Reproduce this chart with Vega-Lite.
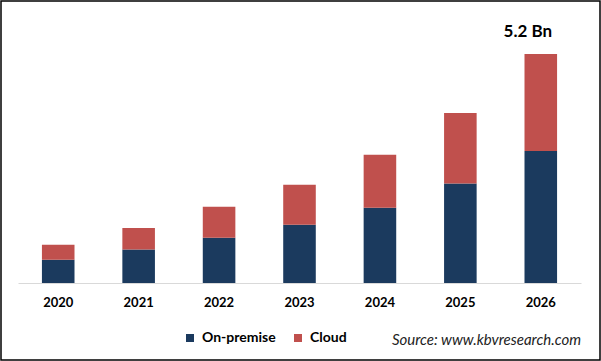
{
  "$schema": "https://vega.github.io/schema/vega-lite/v6.json",
  "autosize": {"type": "none"},
  "width": 599,
  "height": 359,
  "padding": {"left": 1, "top": 1, "right": 1, "bottom": 1},
  "background": "#ffffff",
  "config": {
    "view": {"stroke": "#000000", "strokeWidth": 1.5},
    "font": "Lato"
  },
  "title": {
    "text": "Source: www.kbvresearch.com",
    "orient": "bottom",
    "anchor": "end",
    "offset": -27,
    "dx": -19,
    "font": "Lato",
    "fontStyle": "italic",
    "fontWeight": "normal",
    "fontSize": 15,
    "color": "#222222"
  },
  "datasets": {
    "market": [
      {"year": "2020", "segment": "On-premise", "value": 0.53},
      {"year": "2020", "segment": "Cloud", "value": 0.34},
      {"year": "2021", "segment": "On-premise", "value": 0.76},
      {"year": "2021", "segment": "Cloud", "value": 0.49},
      {"year": "2022", "segment": "On-premise", "value": 1.03},
      {"year": "2022", "segment": "Cloud", "value": 0.70},
      {"year": "2023", "segment": "On-premise", "value": 1.32},
      {"year": "2023", "segment": "Cloud", "value": 0.91},
      {"year": "2024", "segment": "On-premise", "value": 1.71},
      {"year": "2024", "segment": "Cloud", "value": 1.20},
      {"year": "2025", "segment": "On-premise", "value": 2.26},
      {"year": "2025", "segment": "Cloud", "value": 1.60},
      {"year": "2026", "segment": "On-premise", "value": 3.00},
      {"year": "2026", "segment": "Cloud", "value": 2.20}
    ],
    "note": [
      {"year": "2026", "total": 5.2, "label": "5.2 Bn"}
    ]
  },
  "layer": [
    {
      "data": {"name": "market"},
      "mark": {"type": "bar"},
      "encoding": {
        "x": {
          "field": "year",
          "type": "ordinal",
          "scale": {"range": [17, 580], "paddingInner": 0.595, "paddingOuter": 0.2975},
          "axis": {
            "title": null,
            "orient": "bottom",
            "offset": -77,
            "domainColor": "#d9d9d9",
            "domainWidth": 1,
            "ticks": false,
            "labelAngle": 0,
            "labelPadding": 13,
            "labelFont": "Lato",
            "labelFontWeight": "bold",
            "labelFontSize": 13,
            "labelColor": "#000000"
          }
        },
        "y": {
          "field": "value",
          "type": "quantitative",
          "stack": "zero",
          "scale": {"domain": [-1.7485, 6.4035], "nice": false, "zero": false},
          "axis": null
        },
        "color": {
          "field": "segment",
          "type": "nominal",
          "sort": ["On-premise", "Cloud"],
          "scale": {"domain": ["On-premise", "Cloud"], "range": ["#1b3a5e", "#c0504d"]},
          "legend": {
            "title": null,
            "orient": "none",
            "legendX": 182,
            "legendY": 330,
            "direction": "horizontal",
            "symbolType": "square",
            "symbolSize": 64,
            "symbolStrokeWidth": 0,
            "labelFont": "Lato",
            "labelFontWeight": "bold",
            "labelFontSize": 14,
            "labelColor": "#000000",
            "labelOffset": 5,
            "columnPadding": 15
          }
        },
        "order": {"field": "segment", "sort": "descending"}
      }
    },
    {
      "data": {"name": "note"},
      "mark": {"type": "text", "dy": -22, "dx": -13, "font": "Lato", "fontWeight": "bold", "fontSize": 17, "color": "#000000", "baseline": "middle"},
      "encoding": {
        "x": {"field": "year", "type": "ordinal"},
        "y": {"field": "total", "type": "quantitative"},
        "text": {"field": "label"}
      }
    }
  ]
}
